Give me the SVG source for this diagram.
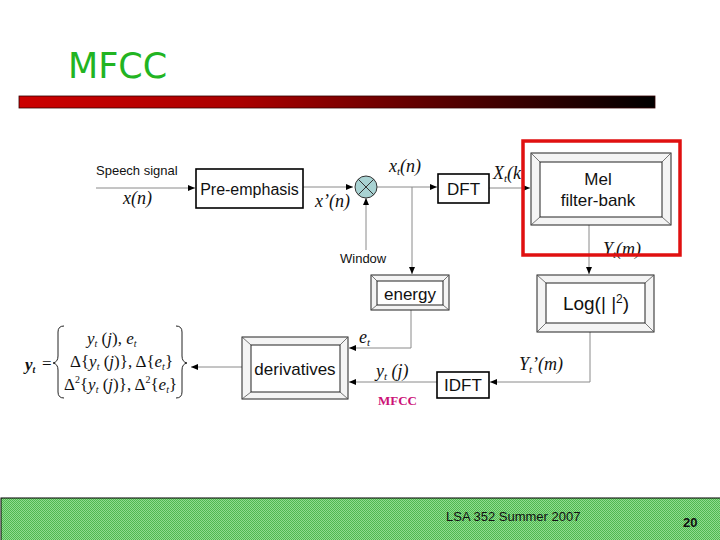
<svg xmlns="http://www.w3.org/2000/svg" width="720" height="540" viewBox="0 0 720 540">
<style>
.lbl{font-family:"Liberation Sans",Arial,sans-serif;fill:#111}
.box{font-family:"Liberation Sans",Arial,sans-serif;font-size:17px;fill:#111;text-anchor:middle}
.m{font-family:"Liberation Serif","Times New Roman",serif;font-style:italic;fill:#111}
.mr{font-family:"Liberation Serif","Times New Roman",serif;fill:#111}
.ln{stroke:#8a8a8a;stroke-width:1;fill:none}
.bev{fill:#f4f4f4;stroke:#222;stroke-width:1}
.bevi{fill:#fff;stroke:#222;stroke-width:1}
.bevd{stroke:#555;stroke-width:0.8}
.pl{fill:#fff;stroke:#000;stroke-width:1.6}
</style>
<defs>
<linearGradient id="bar" x1="0" x2="1" y1="0" y2="0">
<stop offset="0" stop-color="#cc0000"/>
<stop offset="0.35" stop-color="#aa0000"/>
<stop offset="1" stop-color="#000"/>
</linearGradient>
<pattern id="hatch" width="2" height="2" patternUnits="userSpaceOnUse">
<rect width="2" height="2" fill="#8fdc8f"/>
<rect width="1" height="1" fill="#4fb84f"/>
<rect x="1" y="1" width="1" height="1" fill="#4fb84f"/>
</pattern>
<marker id="ah" markerWidth="8" markerHeight="8" refX="7" refY="4" orient="auto" markerUnits="userSpaceOnUse">
<path d="M0,1 L7,4 L0,7 Z" fill="#000"/>
</marker>
</defs>
<rect width="720" height="540" fill="#fff"/>
<text x="68" y="78" font-family="DejaVu Sans,Verdana,sans-serif" font-size="35" fill="#22b422">MFCC</text>
<rect x="19" y="96" width="636" height="12" fill="url(#bar)" stroke="#300" stroke-width="0.8"/>

<g id="connectors">
<line class="ln" x1="96" y1="188" x2="195" y2="188" marker-end="url(#ah)"/>
<line class="ln" x1="303" y1="187" x2="353" y2="187" marker-end="url(#ah)"/>
<line class="ln" x1="366" y1="250" x2="366" y2="198" marker-end="url(#ah)"/>
<line class="ln" x1="377" y1="187" x2="437" y2="187" marker-end="url(#ah)"/>
<polyline class="ln" points="412,187 412,274" marker-end="url(#ah)"/>
<line class="ln" x1="489" y1="188" x2="530" y2="188" marker-end="url(#ah)"/>
<line class="ln" x1="589" y1="225" x2="589" y2="274" marker-end="url(#ah)"/>
<polyline class="ln" points="590,332 590,382 490,382" marker-end="url(#ah)"/>
<line class="ln" x1="437" y1="382" x2="349" y2="382" marker-end="url(#ah)"/>
<polyline class="ln" points="411,310 411,348 349,348" marker-end="url(#ah)"/>
<line class="ln" x1="242" y1="367" x2="191" y2="367" stroke="#333" marker-end="url(#ah)"/>
</g>

<text class="lbl" x="96" y="175" font-size="13">Speech signal</text>
<text class="m" x="123" y="204" font-size="18">x(n)</text>
<text class="m" x="315" y="207" font-size="18">x’(n)</text>
<text class="lbl" x="340" y="263" font-size="13">Window</text>
<text class="m" x="389" y="172" font-size="18">x<tspan font-size="11" dy="3">t</tspan><tspan dy="-3">(n)</tspan></text>
<text class="m" x="493" y="179" font-size="18">X<tspan font-size="11" dy="3">t</tspan><tspan dy="-3">(k</tspan></text>
<text class="m" x="603" y="255" font-size="18">Y<tspan font-size="11" dy="3">t</tspan><tspan dy="-3">(m)</tspan></text>
<text class="m" x="519" y="370" font-size="18">Y<tspan font-size="11" dy="3">t</tspan><tspan dy="-3">’(m)</tspan></text>
<text class="m" x="376" y="377" font-size="18">y<tspan font-size="11" dy="3">t</tspan><tspan dy="-3"> (j)</tspan></text>
<text class="m" x="359" y="343" font-size="18">e<tspan font-size="11" dy="3">t</tspan></text>
<text x="378" y="405" font-family="Liberation Serif,Times New Roman,serif" font-weight="bold" font-size="13" fill="#cc1177">MFCC</text>

<g id="preemph">
<rect class="pl" x="196" y="169" width="107" height="39"/>
<text class="box" x="249.500" y="195" style="font-size:16px">Pre-emphasis</text>
</g>

<g id="mult">
<circle cx="366" cy="187" r="11" fill="#a9d3d3" stroke="#333" stroke-width="1"/>
<path d="M358.200,179.200 L373.800,194.800 M373.800,179.200 L358.200,194.800" stroke="#333" stroke-width="1"/>
</g>

<g id="dft">
<rect class="pl" x="438" y="174" width="51" height="29"/>
<text class="box" x="463.500" y="195">DFT</text>
</g>

<g id="mel">
<rect class="bev" x="531" y="153" width="140" height="72"/>
<rect class="bevi" x="540" y="162" width="122" height="55"/>
<path class="bevd" d="M531,153 L540,162 M671,153 L662,162 M531,225 L540,217 M671,225 L662,217"/>
<text class="box" x="598" y="185">Mel</text>
<text class="box" x="598" y="206">filter-bank</text>
</g>

<g id="log">
<rect class="bev" x="537" y="275" width="117" height="57"/>
<rect class="bevi" x="546" y="283" width="99" height="40"/>
<path class="bevd" d="M537,275 L546,283 M654,275 L645,283 M537,332 L546,323 M654,332 L645,323"/>
<text class="box" x="596" y="310" style="font-size:19px">Log(| |<tspan style="font-size:12px" dy="-7">2</tspan><tspan dy="7">)</tspan></text>
</g>

<g id="energy">
<rect class="bev" x="371" y="275" width="78" height="35"/>
<rect class="bevi" x="377" y="281" width="66" height="24"/>
<path class="bevd" d="M371,275 L377,281 M449,275 L443,281 M371,310 L377,305 M449,310 L443,305"/>
<text class="box" x="410" y="300">energy</text>
</g>

<g id="idft">
<rect class="pl" x="437" y="372" width="52" height="26"/>
<text class="box" x="463" y="391">IDFT</text>
</g>

<g id="derivatives">
<rect class="bev" x="242" y="337" width="106" height="62"/>
<rect class="bevi" x="251" y="345" width="89" height="47"/>
<path class="bevd" d="M242,337 L251,345 M348,337 L340,345 M242,399 L251,392 M348,399 L340,392"/>
<text class="box" x="295" y="375">derivatives</text>
</g>

<g id="formula">
<text class="mr" x="25" y="370" font-size="17" font-weight="bold" font-style="italic">y<tspan font-size="10" dy="3">t</tspan></text>
<text class="mr" x="42" y="369" font-size="17">=</text>
<path d="M64,326 Q58,326 58,332 L58,356 Q58,362 53,363 Q58,364 58,370 L58,392 Q58,398 64,398" fill="none" stroke="#222" stroke-width="1"/>
<path d="M176,326 Q182,326 182,332 L182,356 Q182,362 187,363 Q182,364 182,370 L182,392 Q182,398 176,398" fill="none" stroke="#222" stroke-width="1"/>
<text class="m" x="87" y="344" font-size="17">y<tspan font-size="10" dy="3">t</tspan><tspan dy="-3" font-style="normal">  (</tspan>j<tspan font-style="normal">), </tspan>e<tspan font-size="10" dy="3">t</tspan></text>
<text class="m" x="70" y="367" font-size="17"><tspan font-style="normal">Δ{</tspan>y<tspan font-size="10" dy="3">t</tspan><tspan dy="-3" font-style="normal">  (</tspan>j<tspan font-style="normal">)}, Δ{</tspan>e<tspan font-size="10" dy="3">t</tspan><tspan dy="-3" font-style="normal">}</tspan></text>
<text class="m" x="64" y="390" font-size="17"><tspan font-style="normal">Δ</tspan><tspan font-style="normal" font-size="10" dy="-7">2</tspan><tspan dy="7" font-style="normal">{</tspan>y<tspan font-size="10" dy="3">t</tspan><tspan dy="-3" font-style="normal">  (</tspan>j<tspan font-style="normal">)}, Δ</tspan><tspan font-style="normal" font-size="10" dy="-7">2</tspan><tspan dy="7" font-style="normal">{</tspan>e<tspan font-size="10" dy="3">t</tspan><tspan dy="-3" font-style="normal">}</tspan></text>
</g>

<rect x="523" y="141" width="157" height="114" fill="none" stroke="#e01010" stroke-width="3.500"/>

<rect x="1" y="498" width="720" height="44" fill="url(#hatch)" stroke="#000" stroke-width="1"/>
<text class="lbl" x="446" y="521" font-size="13" fill="#222">LSA 352 Summer 2007</text>
<text class="lbl" x="683" y="527" font-size="13" font-weight="bold">20</text>
</svg>
